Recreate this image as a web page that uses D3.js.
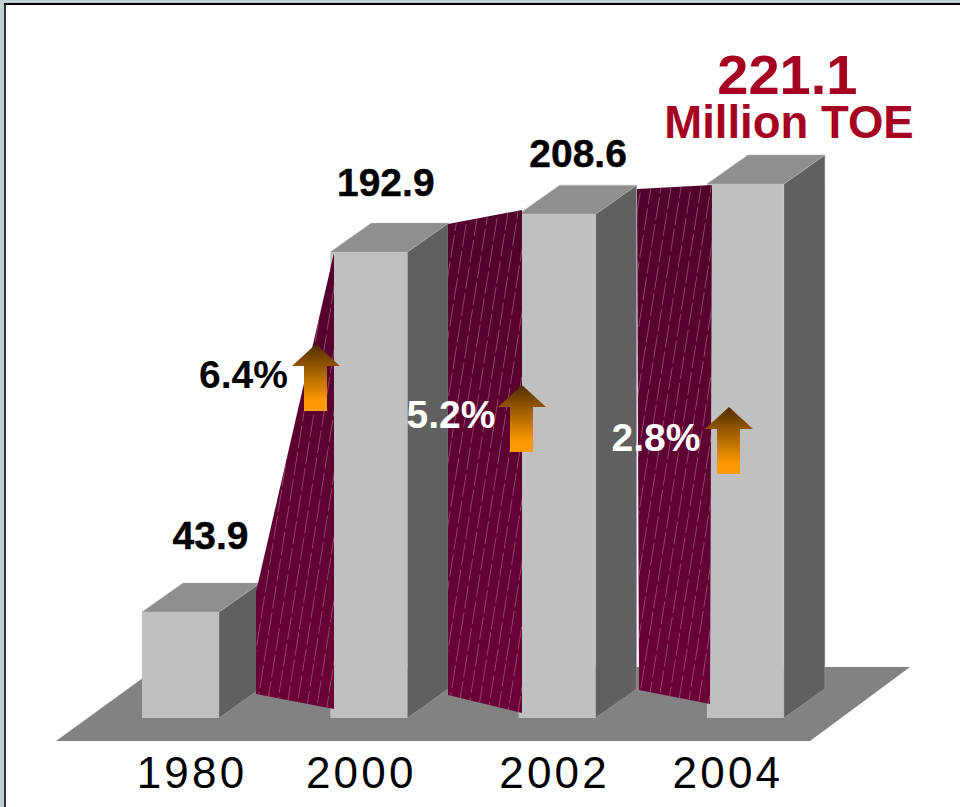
<!DOCTYPE html>
<html>
<head>
<meta charset="utf-8">
<script src="https://cdn.jsdelivr.net/npm/d3@7/dist/d3.min.js"></script>
<style>
html,body{margin:0;padding:0;background:#fff;overflow:hidden}
svg{display:block}
text{font-family:"Liberation Sans",Arial,sans-serif}
</style>
</head>
<body>
<script>
// Energy consumption, million TOE
const years = ["1980", "2000", "2002", "2004"];
const consumption = [43.9, 192.9, 208.6, 221.1];
const growthLabels = ["6.4%", "5.2%", "2.8%"];
const growthLabelColors = ["#000", "#fff", "#fff"];
const headlineUnit = "Million TOE";

// Layout of the pseudo-3D drawing
const W = 960, H = 807;
const barW = 77, depthX = 41, depthY = 29;
const baseY = 718;
const yearShift = [11, -8, -3, -18];
const valueShift = [[30, -63], [17, -56], [21, -47], [42, -90]];
const ribbonGeom = [
  {l: 256, lb: 256, r: 334, rb: 334, tl: 592, tr: 253, bl: 694, br: 709},
  {l: 448, lb: 448, r: 522, rb: 522, tl: 224, tr: 210, bl: 695, br: 713},
  {l: 637, lb: 639, r: 712, rb: 710, tl: 189, tr: 185, bl: 690, br: 704}
];
const arrowAnchors = [[316, 344], [522, 385], [729, 407]];
const growthAnchors = [[243.5, 388], [451, 428], [656, 451]];

const x = d3.scaleBand().domain(years).range([142, 142 + 188.3 * 4]);
const y = d3.scaleLinear().domain([0, 221.1]).range([baseY, 184]);

const svg = d3.select("body").append("svg").attr("width", W).attr("height", H);
const defs = svg.append("defs");

// Window frame
svg.append("rect").attr("width", W).attr("height", H).attr("fill", "#bfd0d0");
svg.append("rect").attr("x", 4).attr("y", 3).attr("width", W).attr("height", H).attr("fill", "#333");
svg.append("rect").attr("x", 4).attr("y", 3).attr("width", W).attr("height", 2).attr("fill", "#000");
svg.append("rect").attr("x", 6).attr("y", 5).attr("width", W).attr("height", H).attr("fill", "#fff");

// Floor plane
const pts = a => a.map(p => p.join(",")).join(" ");
svg.append("polygon")
  .attr("points", pts([[56, 741], [810, 741], [910, 667], [158, 667]]))
  .attr("fill", "#828282");

const arrowGrad = defs.append("linearGradient").attr("id", "arrowGrad")
  .attr("x1", 0).attr("y1", 0).attr("x2", 0).attr("y2", 1);
arrowGrad.append("stop").attr("offset", "0%").attr("stop-color", "#4f2c00");
arrowGrad.append("stop").attr("offset", "85%").attr("stop-color", "#ff9900");
arrowGrad.append("stop").attr("offset", "100%").attr("stop-color", "#ff9900");

const ribbonGrad = defs.append("linearGradient").attr("id", "ribbonGrad")
  .attr("x1", 0).attr("y1", 0).attr("x2", 0).attr("y2", 1);
ribbonGrad.append("stop").attr("offset", "0%").attr("stop-color", "#52002c");
ribbonGrad.append("stop").attr("offset", "100%").attr("stop-color", "#6b0038");

// Columns: side, top, front
const bars = svg.append("g").selectAll("g").data(consumption).join("g");
bars.append("polygon")
  .attr("points", (d, i) => {
    const x0 = x(years[i]) + barW, t = y(d);
    return pts([[x0, t], [x0 + depthX, t - depthY], [x0 + depthX, baseY - depthY], [x0, baseY]]);
  })
  .attr("fill", "#606060").attr("stroke", "#a8a8a8").attr("stroke-width", 0.5);
bars.append("polygon")
  .attr("points", (d, i) => {
    const x0 = x(years[i]), t = y(d);
    return pts([[x0, t], [x0 + barW, t], [x0 + barW + depthX, t - depthY], [x0 + depthX, t - depthY]]);
  })
  .attr("fill", "#8f8f8f").attr("stroke", "#b4b4b4").attr("stroke-width", 0.5);
bars.append("rect")
  .attr("x", (d, i) => x(years[i]))
  .attr("y", d => y(d))
  .attr("width", barW)
  .attr("height", d => baseY - y(d))
  .attr("fill", "#c0c0c0");

// Growth ribbons between consecutive columns, with dashed pin stripes
const ribbons = svg.append("g").selectAll("g").data(ribbonGeom).join("g");
const outline = g => [[g.l, g.tl], [g.r, g.tr], [g.rb, g.br], [g.lb, g.bl]];
ribbons.append("clipPath").attr("id", (g, i) => "ribbonClip" + i)
  .append("polygon").attr("points", g => pts(outline(g)));
ribbons.append("polygon")
  .attr("points", g => pts(outline(g)))
  .attr("fill", "url(#ribbonGrad)");
ribbons.each(function (g, i) {
  const stripes = d3.select(this).append("g").attr("clip-path", `url(#ribbonClip${i})`);
  const slant = 0.16, spacing = 10;
  const top = 150, bottom = 730;
  stripes.selectAll("line")
    .data(d3.range(g.l, g.r + (bottom - top) * slant + spacing, spacing))
    .join("line")
    .attr("x1", d => d).attr("y1", top)
    .attr("x2", d => d - (bottom - top) * slant).attr("y2", bottom)
    .attr("stroke", "#a06088").attr("stroke-width", 0.7)
    .attr("stroke-dasharray", "23 4")
    .attr("stroke-dashoffset", (d, k) => k * 11);
});

// Growth arrows
svg.append("g").selectAll("polygon").data(arrowAnchors).join("polygon")
  .attr("points", ([cx, tip]) => pts([
    [cx, tip], [cx + 24, tip + 22], [cx + 11, tip + 22], [cx + 11, tip + 67],
    [cx - 12, tip + 67], [cx - 12, tip + 22], [cx - 24, tip + 22]
  ]))
  .attr("fill", "url(#arrowGrad)");

// Value labels above the columns
svg.append("g").selectAll("text").data(consumption.slice(0, 3)).join("text")
  .attr("x", (d, i) => x(years[i]) + barW / 2 + valueShift[i][0])
  .attr("y", (d, i) => y(d) + valueShift[i][1])
  .attr("text-anchor", "middle")
  .attr("font-weight", "bold").attr("font-size", 39).attr("fill", "#000")
  .attr("stroke", "#000").attr("stroke-width", 0.4)
  .text(d => d.toFixed(1));

// Headline for the last column
const last = consumption.length - 1;
svg.append("text")
  .attr("x", x(years[last]) + barW / 2 + valueShift[last][0])
  .attr("y", y(consumption[last]) + valueShift[last][1])
  .attr("text-anchor", "middle").attr("font-weight", "bold").attr("font-size", 56).attr("fill", "#a50021")
  .text(consumption[last].toFixed(1));
svg.append("text")
  .attr("x", 789).attr("y", 138)
  .attr("text-anchor", "middle").attr("font-weight", "bold").attr("font-size", 45.5).attr("fill", "#a50021")
  .text(headlineUnit);

// Growth-rate labels
svg.append("g").selectAll("text").data(growthLabels).join("text")
  .attr("x", (d, i) => growthAnchors[i][0])
  .attr("y", (d, i) => growthAnchors[i][1])
  .attr("text-anchor", "middle")
  .attr("font-weight", "bold").attr("font-size", 39)
  .attr("fill", (d, i) => growthLabelColors[i])
  .text(d => d);

// Year labels
svg.append("g").selectAll("text").data(years).join("text")
  .attr("x", (d, i) => x(d) + barW / 2 + yearShift[i] + 0.5)
  .attr("y", 788)
  .attr("text-anchor", "middle")
  .attr("font-size", 44).attr("letter-spacing", 3.2).attr("fill", "#000")
  .text(d => d);
</script>
</body>
</html>
